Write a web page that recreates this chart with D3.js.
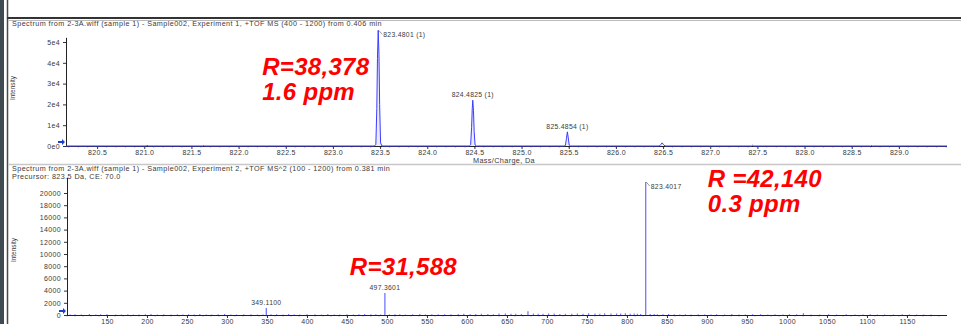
<!DOCTYPE html>
<html><head><meta charset="utf-8">
<script src="https://cdn.jsdelivr.net/npm/d3@7"></script>
<style>
html,body{margin:0;padding:0;background:#fff;}
svg{display:block;font-family:"Liberation Sans",Arial,sans-serif;}
</style></head>
<body><svg id="c" width="961" height="324"></svg>
<script>
// ---------- data ----------
const topHeader = "Spectrum from 2-3A.wiff (sample 1) - Sample002, Experiment 1, +TOF MS (400 - 1200) from 0.406 min";
const botHeader1 = "Spectrum from 2-3A.wiff (sample 1) - Sample002, Experiment 2, +TOF MS^2 (100 - 1200) from 0.381 min";
const botHeader2 = "Precursor: 823.5 Da, CE: 70.0";

const topXTicks = [820.5,821.0,821.5,822.0,822.5,823.0,823.5,824.0,824.5,825.0,825.5,826.0,826.5,827.0,827.5,828.0,828.5,829.0];
const topYTicks = [0,10000,20000,30000,40000,50000];
const topYLabels = ["0e0","1e4","2e4","3e4","4e4","5e4"];
const botXTicks = [150,200,250,300,350,400,450,500,550,600,650,700,750,800,850,900,950,1000,1050,1100,1150];
const botYTicks = [0,2000,4000,6000,8000,10000,12000,14000,16000,18000,20000];

// MS1 profile (m/z, intensity)
const ms1Mz  = [820.17,821.02,821.03,821.04,821.62,821.63,821.64,823.44,823.455,823.465,823.472,823.480,823.488,823.495,823.505,823.52,
                824.445,824.46,824.47,824.477,824.4825,824.49,824.497,824.507,824.52,
                825.45,825.465,825.475,825.4854,825.495,825.505,825.52,
                826.46,826.475,826.49,826.505,826.52,827.44,827.45,827.46,828.70,828.71,828.72,829.51];
const ms1Int = [0,0,300,0,0,250,0,0,800,18000,42000,55600,44000,20000,1500,0,
                0,600,9000,18000,22000,17000,7000,500,0,
                0,300,3500,6800,3800,400,0,
                0,700,1500,700,0,0,400,0,0,250,0,0];
const ms1Labels = [
  {mz:823.4801, inten:55600, text:"823.4801 (1)", side:"right"},
  {mz:824.4825, inten:22000, text:"824.4825 (1)", side:"top"},
  {mz:825.4854, inten:6800,  text:"825.4854 (1)", side:"top"}
];

// MS2 centroid sticks: main peaks
const ms2Mz  = [349.11, 497.3601, 676.2, 823.4017, 1020.5];
const ms2Int = [1150,   3600,     600,   21800,    300];
// MS2 baseline noise sticks
const ms2NoiseMz = [
  104,110,118,128,136,142,150,161,168,176,
  183,190,198,205,213,221,230,238,245,252,
  259,266,274,281,289,297,305,312,321,330,
  338,345,355,362,370,377,384,391,400,410,
  418,426,434,441,450,458,465,472,480,486,
  492,503,510,516,523,532,541,548,556,564,
  572,580,589,596,604,611,618,626,633,640,
  648,655,661,668,683,689,695,702,709,716,
  723,731,738,745,752,760,766,772,780,787,
  792,798,804,809,813,817,829,834,838,845,
  852,859,866,873,880,889,897,905,912,922,
  931,940,948,957,967,976,985,995,1003,1012,
  1030,1041,1052,1062,1074,1085,1095,1104,1113,1122,
  1133,1144,1153,1162,1171,1180];
const ms2NoiseInt = [
  100,120,90,150,80,110,130,80,100,140,
  90,100,120,160,90,110,90,130,100,110,
  90,170,80,90,120,150,100,100,130,140,
  90,80,110,130,100,160,90,90,140,120,
  100,150,90,100,130,90,120,160,110,140,
  90,100,120,130,90,140,150,90,110,120,
  130,120,180,200,130,150,210,180,140,230,
  250,190,220,170,260,200,200,230,240,180,
  190,220,230,200,270,240,210,280,230,260,
  250,300,220,240,200,180,170,150,140,120,
  160,110,100,140,90,110,100,90,120,100,
  150,90,100,130,110,90,110,100,140,120,
  80,100,110,90,120,100,90,110,80,100,
  90,110,80,100,90,80];
const ms2Labels = [
  {mz:349.11,   inten:1150,  text:"349.1100", side:"top"},
  {mz:497.3601, inten:3600,  text:"497.3601", side:"top"},
  {mz:823.4017, inten:21800, text:"823.4017", side:"right"}
];

const notes = [
  {panel:1, x:822.25, y:34300, lines:["R=38,378","1.6 ppm"]},
  {panel:2, x:453.5, y:6560, lines:["R=31,588"]},
  {panel:2, x:901, y:21000, lines:["R =42,140","0.3 ppm"]}
];

// ---------- drawing ----------
const svg = d3.select("#c");
const blue = "#3c3cff";
const txt = "#3a3a3a";

// frame
svg.append("rect").attr("x",0).attr("y",0).attr("width",4).attr("height",324).attr("fill","#3f4b50");
svg.append("line").attr("x1",7.5).attr("x2",7.5).attr("y1",0).attr("y2",324).attr("stroke","#4a4a4a").attr("stroke-width",1.5);
svg.append("line").attr("x1",7).attr("x2",961).attr("y1",18).attr("y2",18).attr("stroke","#333").attr("stroke-width",2);
svg.append("line").attr("x1",8).attr("x2",961).attr("y1",20.5).attr("y2",20.5).attr("stroke","#bbb").attr("stroke-width",1);
svg.append("line").attr("x1",8).attr("x2",961).attr("y1",164.5).attr("y2",164.5).attr("stroke","#c8c8c8").attr("stroke-width",1.5);

function header(x, y, t){
  svg.append("text").attr("x",x).attr("y",y).attr("font-size",7.2).attr("letter-spacing",0.43).attr("fill",txt).text(t);
}
header(12, 25.5, topHeader);
header(12, 171, botHeader1);
header(12, 178.5, botHeader2);

// scales
const x1 = d3.scaleLinear().domain([820.17,829.51]).range([66,947]);
const y1 = d3.scaleLinear().domain([0,50000]).range([146,42]);
const x2 = d3.scaleLinear().domain([100,1200]).range([67,947]);
const y2 = d3.scaleLinear().domain([0,20000]).range([315,193]);

function drawAxes(g, x, y, xt, xlab, yt, ylab, yTop, minorStep){
  const ya = g.append("g").attr("transform",`translate(${x.range()[0]},0)`)
    .call(d3.axisLeft(y).tickValues(yt).tickSize(3).tickPadding(3).tickFormat((d,i)=>ylab[i]));
  ya.select(".domain").remove();
  ya.selectAll("text").attr("font-size",7).attr("letter-spacing",0.35).attr("fill",txt).attr("font-family","Liberation Sans, Arial, sans-serif");
  ya.selectAll("line").attr("stroke","#333");
  g.append("line").attr("x1",x.range()[0]+0.5).attr("x2",x.range()[0]+0.5)
    .attr("y1",y(0)).attr("y2",y(yTop)).attr("stroke","#222");
  const xa = g.append("g").attr("transform",`translate(0,${y(0)})`)
    .call(d3.axisBottom(x).tickValues(xt).tickSize(3).tickPadding(1).tickFormat((d,i)=>xlab[i]));
  xa.select(".domain").remove();
  xa.selectAll("text").attr("font-size",7).attr("letter-spacing",0.3).attr("fill",txt).attr("font-family","Liberation Sans, Arial, sans-serif");
  xa.selectAll("line").attr("stroke","#333");
  const minor = d3.range(Math.ceil(x.domain()[0]/minorStep)*minorStep, x.domain()[1], minorStep);
  g.append("g").selectAll("line").data(minor).join("line")
    .attr("x1",d=>x(d)).attr("x2",d=>x(d)).attr("y1",y(0)).attr("y2",y(0)+1.5).attr("stroke","#555").attr("stroke-width",0.6);
  g.append("line").attr("x1",x.range()[0]).attr("x2",x.range()[1])
    .attr("y1",y(0)+0.5).attr("y2",y(0)+0.5).attr("stroke","#222");
}

const g1 = svg.append("g");
drawAxes(g1, x1, y1, topXTicks, topXTicks.map(d=>d.toFixed(1)), topYTicks, topYLabels, 52000, 0.1);
const g2 = svg.append("g");
drawAxes(g2, x2, y2, botXTicks, botXTicks.map(String), botYTicks, botYTicks.map(String), 22500, 10);

// axis titles
svg.append("text").attr("transform",`translate(15,${88}) rotate(-90)`).attr("text-anchor","middle")
  .attr("font-size",6.5).attr("fill",txt).text("Intensity");
svg.append("text").attr("transform",`translate(16,${250}) rotate(-90)`).attr("text-anchor","middle")
  .attr("font-size",6.5).attr("fill",txt).text("Intensity");
svg.append("text").attr("x",x1(824.485)).attr("y",163).attr("font-size",7.3).attr("letter-spacing",0.35).attr("fill",txt).text("Mass/Charge, Da");

// blue arrow markers
function arrow(xp, yp){
  svg.append("path").attr("d",`M${xp-6},${yp-1} L${xp-2},${yp-1} L${xp-2},${yp-3} L${xp+1},${yp} L${xp-2},${yp+3} L${xp-2},${yp+1} L${xp-6},${yp+1} Z`)
    .attr("fill","#1a3fd0");
}
arrow(x1.range()[0]-2, y1(0)-4);
arrow(x2.range()[0]-2, y2(0)-4);

// MS1 profile
const prof = ms1Mz.map((m,i)=>[m, ms1Int[i]]);
g1.append("path").datum(prof)
  .attr("d", d3.line().x(d=>x1(d[0])).y(d=>y1(d[1])))
  .attr("fill","rgba(120,120,255,0.15)").attr("stroke",blue).attr("stroke-width",1);

// MS2 sticks
const noise = ms2NoiseMz.map((m,i)=>[m, ms2NoiseInt[i]]);
g2.append("g").selectAll("line").data(noise).join("line")
  .attr("x1",d=>x2(d[0])).attr("x2",d=>x2(d[0]))
  .attr("y1",y2(0)).attr("y2",d=>y2(d[1]))
  .attr("stroke","#7a7aff").attr("stroke-width",1.2);
const sticks = ms2Mz.map((m,i)=>[m, ms2Int[i]]);
g2.append("g").selectAll("line").data(sticks).join("line")
  .attr("x1",d=>x2(d[0])).attr("x2",d=>x2(d[0]))
  .attr("y1",y2(0)).attr("y2",d=>y2(d[1]))
  .attr("stroke","#6a6aff").attr("stroke-width",1.2);

// peak labels
function peakLabels(g, x, y, labels){
  labels.forEach(l=>{
    const px = x(l.mz), py = y(l.inten);
    if(l.side==="right"){
      g.append("line").attr("x1",px+0.5).attr("y1",py).attr("x2",px+4).attr("y2",py+4).attr("stroke","#555").attr("stroke-width",0.6);
      g.append("text").attr("x",px+5).attr("y",py+7).attr("font-size",6.8).attr("letter-spacing",0.3).attr("fill",txt).text(l.text);
    } else {
      g.append("text").attr("x",px).attr("y",py-3).attr("text-anchor","middle").attr("font-size",6.8).attr("letter-spacing",0.3).attr("fill",txt).text(l.text);
    }
  });
}
peakLabels(g1, x1, y1, ms1Labels);
peakLabels(g2, x2, y2, ms2Labels);

// red annotations
notes.forEach(n=>{
  const xs = n.panel===1 ? x1 : x2, ys = n.panel===1 ? y1 : y2;
  n.lines.forEach((t,i)=>{
    svg.append("text").attr("x",xs(n.x)).attr("y",ys(n.y)+i*25)
      .attr("font-size",24).attr("letter-spacing",0.3).attr("font-weight","bold").attr("font-style","italic")
      .attr("fill","#ff0000").text(t);
  });
});
</script></body></html>
